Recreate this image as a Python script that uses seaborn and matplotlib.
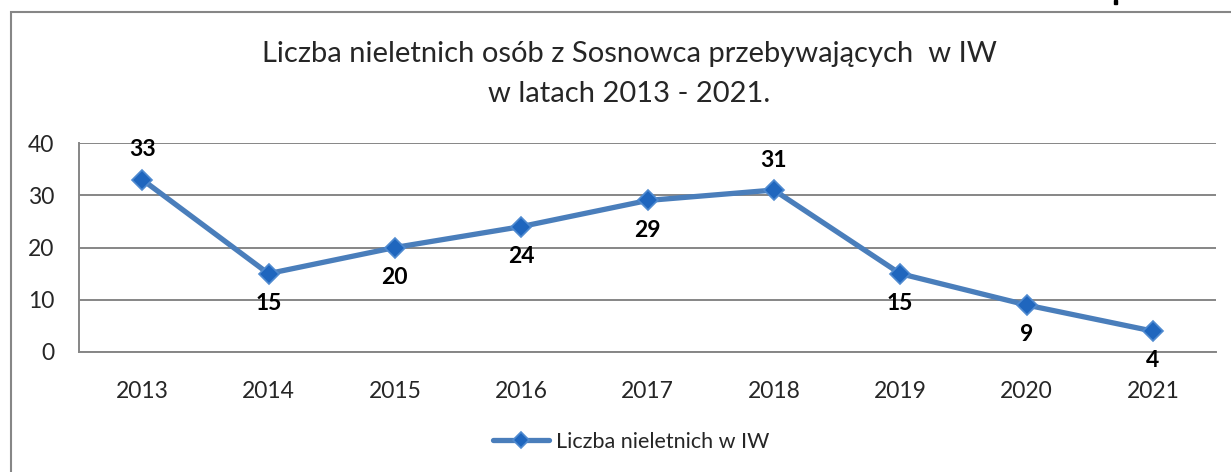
import matplotlib.pyplot as plt
import matplotlib.patches as mpatches
import numpy as np
import pandas as pd
import seaborn as sns

years = ["2013", "2014", "2015", "2016", "2017", "2018", "2019", "2020", "2021"]
values = [33, 15, 20, 24, 29, 31, 15, 9, 4]
label_pos = ["above", "below", "below", "below", "below", "above", "below", "below", "below"]
series_name = "Liczba nieletnich w IW"
title_lines = ["Liczba nieletnich osób z Sosnowca przebywających  w IW",
               "w latach 2013 - 2021."]

sns.set_style("white")
plt.rcParams['font.family'] = ['Lato', 'DejaVu Sans']

line_col = "#4A7EBB"
grid_col = "#868686"

df = pd.DataFrame({"idx": np.arange(len(years)), "val": values})

fig = plt.figure(figsize=(12.31, 4.72), dpi=100)
W, H = 1231, 472
ax = fig.add_axes([79 / W, 1 - 352 / H, (1216 - 79) / W, (352 - 143) / H])

sns.lineplot(data=df, x="idx", y="val", ax=ax, color=line_col, linewidth=3.8,
             marker="D", markersize=10, markerfacecolor="#1F66BE",
             markeredgecolor="#4F8AD0", markeredgewidth=1.2,
             label=series_name, zorder=3)

ax.set_xlim(-0.5, len(years) - 0.5)
ax.set_ylim(0, 40)
ax.set_yticks([0, 10, 20, 30, 40])
ax.yaxis.grid(True, color=grid_col, linewidth=1.4)
ax.set_axisbelow(True)
ax.set_xticks(np.arange(len(years)))
ax.set_xticklabels(years)
ax.set_xticks(np.arange(len(years) + 1) - 0.5, minor=True)
ax.tick_params(axis="x", which="major", length=0, pad=21, labelsize=16.5)
ax.tick_params(axis="x", which="minor", length=7, width=1.4, color=grid_col)
ax.tick_params(axis="y", length=5, width=1.4, color=grid_col, pad=13, labelsize=16.5)
ax.set_xlabel("")
ax.set_ylabel("")
for side in ["top", "right"]:
    ax.spines[side].set_visible(False)
for side in ["left", "bottom"]:
    ax.spines[side].set_color(grid_col)
    ax.spines[side].set_linewidth(1.4)

for i, (v, pos) in enumerate(zip(values, label_pos)):
    dy = 21.5 if pos == "above" else -21.5
    ax.annotate(str(v), (i, v), xytext=(0, dy), textcoords="offset points",
                ha="center", va="center", fontsize=16.5, fontweight="bold", color="black")

leg = ax.legend(loc="center", bbox_to_anchor=(631 / W, 1 - 442 / H),
                bbox_transform=fig.transFigure, frameon=False, fontsize=15.5,
                handlelength=2.6, handletextpad=0.3, markerscale=0.85)

fig.text(629.5 / W, 1 - 62 / H, title_lines[0], ha="center", va="baseline", fontsize=21)
fig.text(629.5 / W, 1 - 102 / H, title_lines[1], ha="center", va="baseline", fontsize=21)

# outer chart frame (cropped on the right and bottom)
fig.add_artist(mpatches.Rectangle((11 / W, -0.05), 1.1, 1 - 12 / H + 0.05,
                                  transform=fig.transFigure, fill=False,
                                  edgecolor=grid_col, linewidth=1.5))
fig.add_artist(mpatches.Rectangle((1114 / W, 1 - 4 / H), 3 / W, 4 / H,
                                  transform=fig.transFigure, color="black"))

fig.savefig("out.png", dpi=100)
